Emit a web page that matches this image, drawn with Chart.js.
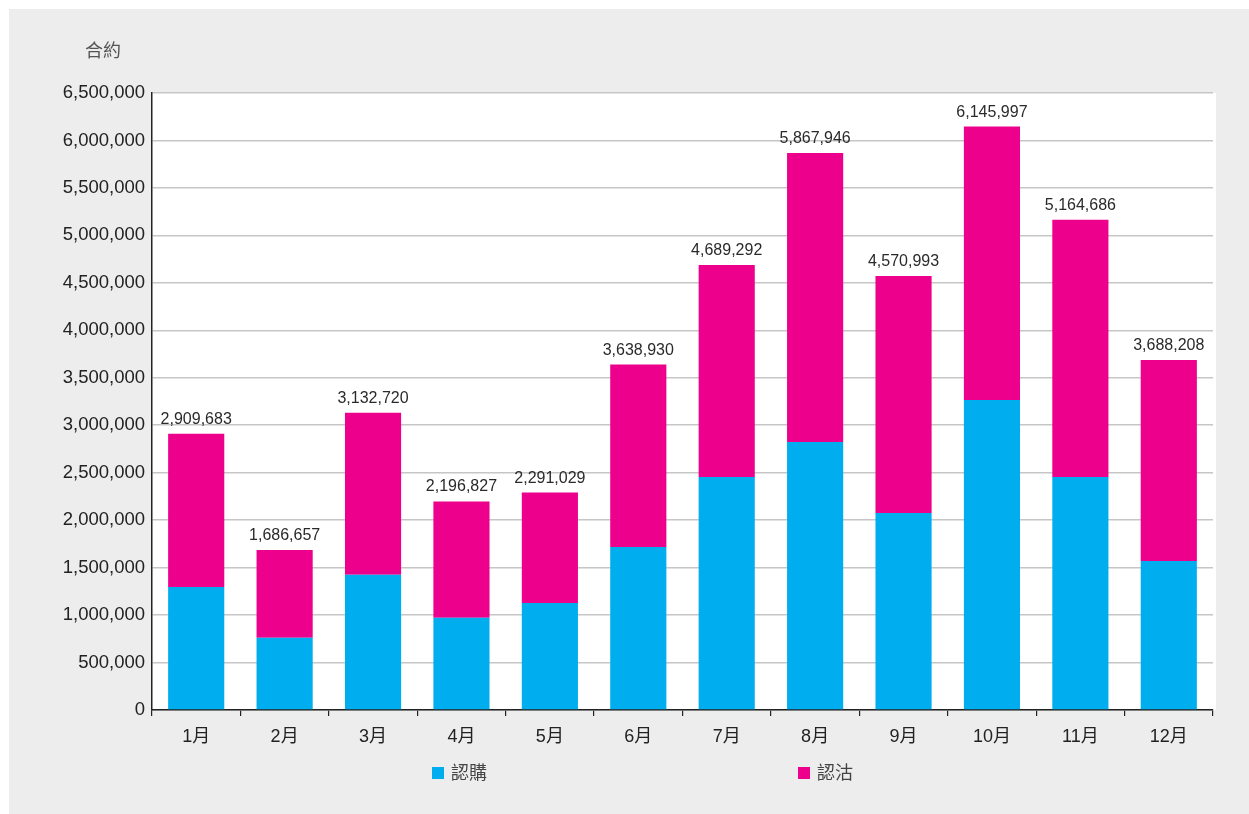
<!DOCTYPE html>
<html>
<head>
<meta charset="utf-8">
<script src="https://cdn.jsdelivr.net/npm/chart.js@4/dist/chart.umd.min.js"></script>
<style>
  body { margin: 0; background: #fff; }
  canvas { display: block; }
</style>
</head>
<body>
<canvas id="myChart" width="1249" height="814"></canvas>
<script>
var months = ["1月", "2月", "3月", "4月", "5月", "6月", "7月", "8月", "9月", "10月", "11月", "12月"];
// 認購 (calls)
var callValues = [1296000, 762000, 1426000, 973000, 1128000, 1718000, 2455000, 2824000, 2076000, 3267000, 2455000, 1570000];
// 認沽 (puts) - magenta segments, so that call + put = printed total
var putValues = [1613683, 924657, 1706720, 1223827, 1163029, 1920930, 2234292, 3043946, 2494993, 2878997, 2709686, 2118208];
var yTicks = { min: 0, max: 6500000, step: 500000 };

var FONT = "'Liberation Sans', 'Noto Sans CJK TC', sans-serif";
var BLUE = '#00aeef';
var PINK = '#ec008c';

// background, white plot area, axis title, bar totals and legend
var decor = {
    id: 'decor',
    beforeDraw: function (chart) {
        var c = chart.ctx, a = chart.chartArea;
        c.save();
        c.fillStyle = '#ffffff';
        c.fillRect(0, 0, chart.width, chart.height);
        c.fillStyle = '#ededed';
        c.fillRect(9, 9, chart.width - 9, chart.height - 9);
        c.fillStyle = '#ffffff';
        c.fillRect(a.left, a.top, a.right - a.left + 3, a.bottom - a.top);
        c.restore();
    },
    afterDatasetsDraw: function (chart) {
        var c = chart.ctx, y = chart.scales.y;
        var meta = chart.getDatasetMeta(0);
        c.save();
        c.font = '16px ' + FONT;
        c.fillStyle = '#2a2a2a';
        c.textAlign = 'center';
        c.textBaseline = 'alphabetic';
        for (var i = 0; i < months.length; i++) {
            var total = callValues[i] + putValues[i];
            c.fillText(total.toLocaleString('en-US'), meta.data[i].x, y.getPixelForValue(total) - 10);
        }
        // y axis title
        c.font = '18px ' + FONT;
        c.fillStyle = '#555555';
        c.textAlign = 'left';
        c.textBaseline = 'middle';
        c.fillText('合約', 85, 52);
        // legend
        var items = [[432, chart.data.datasets[0]], [798, chart.data.datasets[1]]];
        items.forEach(function (it) {
            c.fillStyle = it[1].backgroundColor;
            c.fillRect(it[0], 767, 12, 12);
            c.fillStyle = '#444444';
            c.fillText(it[1].label, it[0] + 19, 774);
        });
        c.restore();
    }
};

var ctx = document.getElementById('myChart').getContext('2d');
var chart = new Chart(ctx, {
    type: 'bar',
    data: {
        labels: months,
        datasets: [{
            label: '認購',
            backgroundColor: BLUE,
            data: callValues
        }, {
            label: '認沽',
            backgroundColor: PINK,
            data: putValues
        }]
    },
    options: {
        responsive: false,
        animation: false,
        layout: { padding: { top: 93, right: 36, bottom: 54, left: 0 } },
        datasets: { bar: { categoryPercentage: 1, barPercentage: 0.635 } },
        plugins: {
            legend: { display: false },
            tooltip: { enabled: false }
        },
        scales: {
            x: {
                stacked: true,
                afterFit: function (s) { s.height = 50; },
                grid: { offset: true, drawOnChartArea: false, color: '#222', lineWidth: 1.2, tickLength: 6 },
                border: { color: '#222', width: 1.5 },
                ticks: { color: '#222', padding: 10, font: { family: FONT, size: 18 } }
            },
            y: {
                stacked: true,
                min: yTicks.min,
                max: yTicks.max,
                afterFit: function (s) { s.width = 152; },
                grid: { color: '#c6c6c6', lineWidth: 1.5, drawTicks: false },
                border: { color: '#222', width: 1.5 },
                ticks: {
                    stepSize: yTicks.step,
                    color: '#222',
                    padding: 7,
                    font: { family: FONT, size: 18.5 },
                    callback: function (v) { return v.toLocaleString('en-US'); }
                }
            }
        }
    },
    plugins: [decor]
});
</script>
</body>
</html>
